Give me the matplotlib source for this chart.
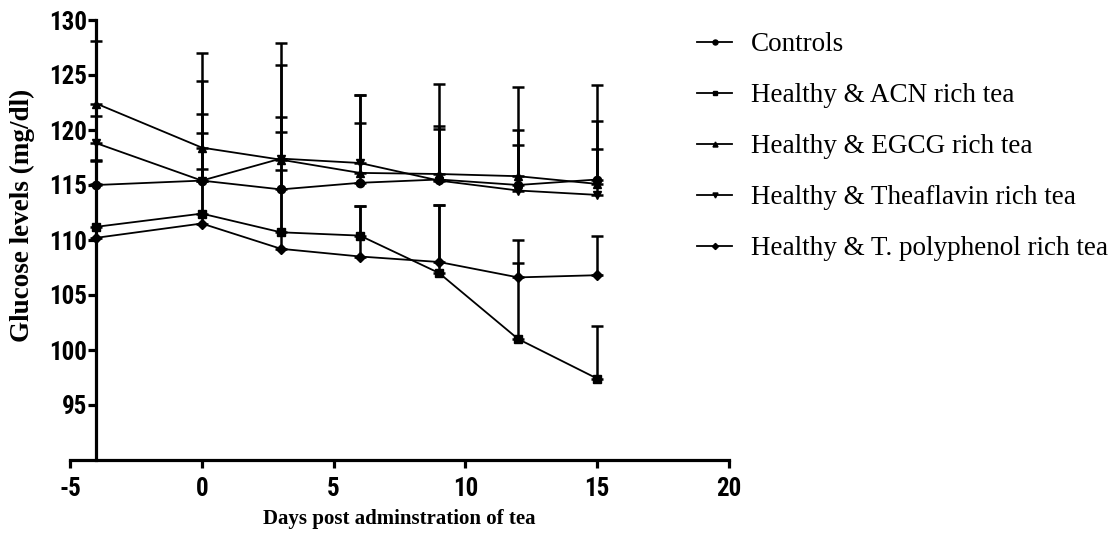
import matplotlib
matplotlib.use("Agg")
import matplotlib.pyplot as plt
from matplotlib import font_manager as fm
import numpy as np

plt.rcParams["axes.unicode_minus"] = False

days = [-4, 0, 3, 6, 9, 12, 15]
labels = ["Controls", "Healthy & ACN rich tea", "Healthy & EGCG rich tea",
          "Healthy & Theaflavin rich tea", "Healthy & T. polyphenol rich tea"]

controls      = [115.0, 115.4, 114.6, 115.2, 115.5, 115.0, 115.5]
acn           = [111.2, 112.4, 110.7, 110.4, 107.0, 101.0, 97.4]
egcg          = [122.4, 118.4, 117.3, 116.1, 116.0, 115.8, 115.1]
theaflavin    = [118.8, 115.4, 117.4, 117.0, 115.4, 114.5, 114.1]
polyphenol    = [110.2, 111.5, 109.2, 108.5, 108.0, 106.6, 106.8]

controls_err   = [2.2, 6.1, 6.6, 5.4, 4.6, 3.6, 5.3]
acn_err        = [3.9, 7.3, 9.1, 2.7, 6.2, 6.9, 4.8]
egcg_err       = [5.7, 8.6, 10.6, 7.1, 8.2, 8.1, 9.0]
theaflavin_err = [2.5, 9.1, 8.5, 6.2, 5.0, 5.5, 4.2]
polyphenol_err = [7.1, 5.0, 7.2, 4.6, 5.2, 3.4, 3.6]

series = [controls, acn, egcg, theaflavin, polyphenol]
errors = [controls_err, acn_err, egcg_err, theaflavin_err, polyphenol_err]
markers = ["o", "s", "^", "v", "D"]
msizes = [6.0, 6.0, 6.0, 6.0, 5.2]

x_ticks = [-5, 0, 5, 10, 15, 20]
y_ticks = [95, 100, 105, 110, 115, 120, 125, 130]


def find_condensed(prefs):
    """Pick a bold condensed/narrow sans font file if one is installed."""
    cands = []
    for f in fm.fontManager.ttflist:
        w = f.weight if isinstance(f.weight, int) else {"bold": 700}.get(f.weight, 400)
        narrow = ("narrow" in f.name.lower() or "condensed" in f.name.lower()
                  or "condensed" in str(f.stretch) or "narrow" in f.fname.lower()
                  or ("condensed" in f.fname.lower() and "extra" not in f.fname.lower()
                      and "ultra" not in f.fname.lower() and "semi" not in f.fname.lower()))
        if not narrow or "italic" in f.style or "oblique" in f.style:
            continue
        if w < 600 or w > 800:
            continue
        cands.append(f)
    for p in prefs:
        for f in cands:
            if p.lower() in f.name.lower() or p.lower().replace(" ", "") in f.fname.lower():
                return f.fname
    return None


sans_c = find_condensed(["Liberation Sans Narrow", "Arial Narrow", "Roboto Condensed",
                         "Noto Sans", "Open Sans", "DejaVu Sans"])
if sans_c:
    tick_fp = fm.FontProperties(fname=sans_c, size=18)
else:
    tick_fp = fm.FontProperties(family="Liberation Sans", weight="bold", size=16)
xlab_fp = fm.FontProperties(family="Liberation Serif", weight="bold", size=15)

fig = plt.figure(figsize=(11.11, 5.37), dpi=100)
ax = fig.add_axes([70/1111, 1-460/537, (729-70)/1111, 440/537])

handles = []
for vals, err, mk, ms, lab in zip(series, errors, markers, msizes, labels):
    lo = np.zeros(len(err))
    ax.errorbar(days, vals, yerr=[lo, err], fmt="none", ecolor="black",
                elinewidth=1.8, capsize=4.5, capthick=1.8, zorder=2, clip_on=False)
    ax.plot(days, vals, color="black", lw=1.3, marker=mk, ms=ms,
            mfc="black", mec="black", zorder=3, clip_on=False)
    h, = ax.plot([], [], color="black", lw=1.3, marker=mk, ms=ms*0.6,
                 mfc="black", mec="black", label=lab)
    handles.append(h)

ax.set_xlim(-5, 20)
ax.set_ylim(90, 130)
ax.set_xticks(x_ticks)
ax.set_yticks(y_ticks)
ax.spines["top"].set_visible(False)
ax.spines["right"].set_visible(False)
ax.spines["left"].set_position(("data", -4))
for s in ("left", "bottom"):
    ax.spines[s].set_linewidth(2.3)
ax.tick_params(axis="both", direction="out", length=6, width=2.3)
ax.tick_params(axis="x", pad=6)
ax.tick_params(axis="y", pad=0.5)
for lbl in ax.get_xticklabels() + ax.get_yticklabels():
    lbl.set_fontproperties(tick_fp)

ax.set_xlabel("Days post adminstration of tea", fontproperties=xlab_fp, labelpad=6)
fig.text(22/1111, 1-215/537, "Glucose levels (mg/dl)", rotation=90,
         fontfamily="Liberation Serif", fontweight="bold", fontsize=19.5,
         ha="center", va="center")

fig.legend(handles=handles, loc="upper left", bbox_to_anchor=(697/1111, 1-32/537),
           frameon=False, prop={"family": "Liberation Serif", "size": 19.5},
           handlelength=1.3, handletextpad=0.7, labelspacing=0.96,
           borderaxespad=0, borderpad=0)

fig.savefig("out.png", dpi=100)
